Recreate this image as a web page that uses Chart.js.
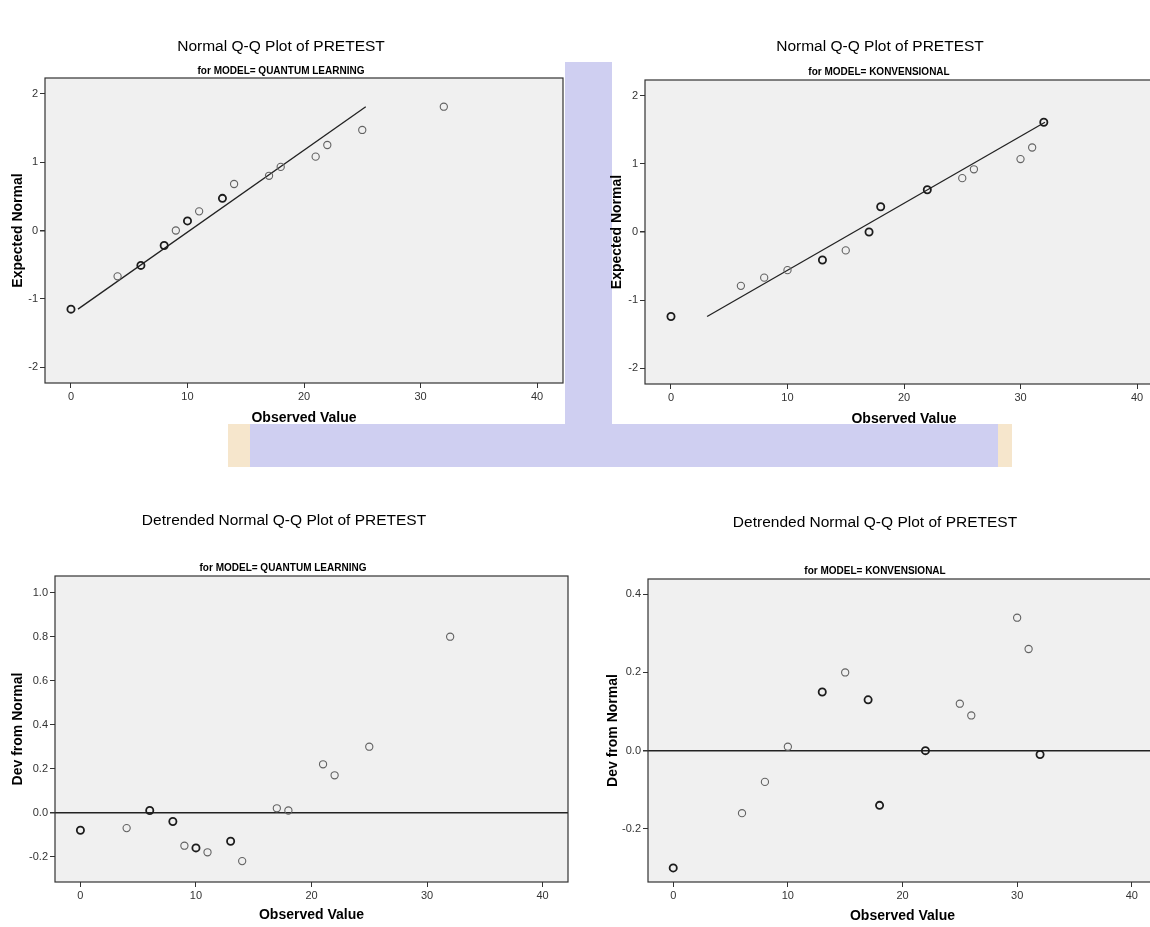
<!DOCTYPE html>
<html>
<head>
<meta charset="utf-8">
<script src="https://cdn.jsdelivr.net/npm/chart.js@4.4.0/dist/chart.umd.min.js"></script>
<style>
  html, body { margin: 0; padding: 0; background: #fff; }
  #page { position: relative; width: 1150px; height: 927px; overflow: hidden; background: #fff; }
  .wm { position: absolute; background: #cfcff1; }
  .wm-edge { position: absolute; background: #f6e6cc; }
  canvas { position: absolute; left: 0; top: 0; }
</style>
</head>
<body>
<div id="page">
  <!-- faint logo watermark behind the output -->
  <div class="wm" style="left:228px;top:424px;width:784px;height:43px"></div>
  <div class="wm" style="left:565px;top:62px;width:47px;height:362px"></div>
  <div class="wm-edge" style="left:228px;top:424px;width:22px;height:43px"></div>
  <div class="wm-edge" style="left:998px;top:424px;width:14px;height:43px"></div>
  <canvas id="qqQuantum" width="1170" height="927"></canvas>
  <canvas id="qqKonv" width="1170" height="927"></canvas>
  <canvas id="dtQuantum" width="1170" height="927"></canvas>
  <canvas id="dtKonv" width="1170" height="927"></canvas>
</div>
<script>

// MODEL = QUANTUM LEARNING
const quantumObserved = [0, 4, 6, 8, 9, 10, 11, 13, 14, 17, 18, 21, 22, 25, 32];
const quantumExpected = [-1.15, -0.67, -0.51, -0.22, 0.00, 0.14, 0.28, 0.47, 0.68, 0.80, 0.93, 1.08, 1.25, 1.47, 1.81];
const quantumDev = [-0.08, -0.07, 0.01, -0.04, -0.15, -0.16, -0.18, -0.13, -0.22, 0.02, 0.01, 0.22, 0.17, 0.30, 0.80];
const quantumTies = [2, 1, 2, 2, 1, 2, 1, 2, 1, 1, 1, 1, 1, 1, 1];
const quantumLineX = [0.6, 25.3];
const quantumLineY = [-1.15, 1.81];

// MODEL = KONVENSIONAL
const konvObserved = [0, 6, 8, 10, 13, 15, 17, 18, 22, 25, 26, 30, 31, 32];
const konvExpected = [-1.24, -0.79, -0.67, -0.56, -0.41, -0.27, 0.00, 0.37, 0.62, 0.79, 0.92, 1.07, 1.24, 1.61];
const konvDev = [-0.30, -0.16, -0.08, 0.01, 0.15, 0.20, 0.13, -0.14, 0.00, 0.12, 0.09, 0.34, 0.26, -0.01];
const konvTies = [2, 1, 1, 1, 2, 1, 2, 2, 2, 1, 1, 1, 1, 2];
const konvLineX = [3.1, 32.1];
const konvLineY = [-1.24, 1.61];

// tick labels
const observedTicks = [0, 10, 20, 30, 40];
const expectedTicks = [-2, -1, 0, 1, 2];
const quantumDevTicks = [-0.2, 0.0, 0.2, 0.4, 0.6, 0.8, 1.0];
const konvDevTicks = [-0.2, 0.0, 0.2, 0.4];

const FONT = '"Liberation Sans", Arial, sans-serif';
const CANVAS_W = 1170, CANVAS_H = 927;
const AXIS_TITLE_SIZE = 14;

const toPoints = (xs, ys) => xs.map((x, i) => ({ x: x, y: ys[i] }));

// plot background, frame and headings
const spssFrame = {
  id: 'spssFrame',
  beforeDraw(chart) {
    const a = chart.chartArea, ctx = chart.ctx;
    ctx.save();
    ctx.fillStyle = '#f0f0f0';
    ctx.fillRect(a.left, a.top, a.right - a.left, a.bottom - a.top);
    ctx.restore();
  },
  afterDraw(chart, args, opts) {
    const a = chart.chartArea, ctx = chart.ctx;
    ctx.save();
    ctx.strokeStyle = '#333';
    ctx.lineWidth = 1.2;
    ctx.strokeRect(a.left, a.top, a.right - a.left, a.bottom - a.top);
    ctx.fillStyle = '#000';
    ctx.textAlign = 'center';
    ctx.textBaseline = 'middle';
    ctx.font = '15.5px ' + FONT;
    ctx.fillText(opts.title, opts.titleX, opts.titleY);
    ctx.font = 'bold 10px ' + FONT;
    ctx.fillText(opts.subtitle, opts.subX, opts.subY);
    ctx.restore();
  }
};

function makePanel(id, p) {
  const half = AXIS_TITLE_SIZE * 1.2 / 2;
  const yW = p.box[0] - p.yTitleX + half;
  const xH = p.xTitleY - p.box[3] + half;

  const datasets = [{
    type: 'scatter',
    data: toPoints(p.xs, p.ys),
    pointRadius: 3.6,
    pointHoverRadius: 3.6,
    backgroundColor: 'rgba(0,0,0,0)',
    borderColor: ctx => p.ties[ctx.dataIndex] > 1 ? '#1c1c1c' : '#626262',
    borderWidth: ctx => p.ties[ctx.dataIndex] > 1 ? 1.8 : 1.1,
  }];
  if (p.lineX) {
    datasets.push({
      type: 'line',
      data: toPoints(p.lineX, p.lineY),
      borderColor: '#222',
      borderWidth: 1.3,
      pointRadius: 0,
      fill: false,
    });
  }

  const config = {
    type: 'scatter',
    data: { datasets: datasets },
    options: {
      responsive: false,
      animation: false,
      events: [],
      layout: {
        padding: {
          left: p.box[0] - yW,
          top: p.box[1],
          right: CANVAS_W - p.box[2],
          bottom: CANVAS_H - p.box[3] - xH,
        }
      },
      scales: {
        x: {
          type: 'linear',
          min: p.xMin, max: p.xMax,
          afterFit: s => { s.height = xH; },
          afterBuildTicks: s => { s.ticks = observedTicks.map(v => ({ value: v })); },
          border: { display: false },
          grid: { drawOnChartArea: false, tickLength: 5, tickColor: '#333', lineWidth: 1 },
          ticks: { color: '#333', padding: 2, font: { family: FONT, size: 11 }, maxRotation: 0 },
          title: {
            display: true, text: 'Observed Value', color: '#000', padding: 0,
            font: { family: FONT, size: AXIS_TITLE_SIZE, weight: 'bold' }
          }
        },
        y: {
          type: 'linear',
          min: p.yMin, max: p.yMax,
          afterFit: s => { s.width = yW; },
          afterBuildTicks: s => { s.ticks = p.yTicks.map(v => ({ value: v })); },
          border: { display: false },
          grid: {
            drawOnChartArea: p.zeroLine,
            color: c => c.tick && c.tick.value === 0 ? '#222' : 'rgba(0,0,0,0)',
            lineWidth: c => c.tick && c.tick.value === 0 ? 1.5 : 1,
            tickLength: 5, tickColor: '#333'
          },
          ticks: {
            color: '#333', padding: 2, font: { family: FONT, size: 11 },
            callback: v => p.decimals ? v.toFixed(p.decimals) : v
          },
          title: {
            display: true, text: p.yTitle, color: '#000', padding: 0,
            font: { family: FONT, size: AXIS_TITLE_SIZE, weight: 'bold' }
          }
        }
      },
      plugins: {
        legend: { display: false },
        tooltip: { enabled: false },
        spssFrame: p.head,
      }
    },
    plugins: [spssFrame]
  };
  return new Chart(document.getElementById(id), config);
}

// Normal Q-Q, QUANTUM LEARNING
makePanel('qqQuantum', {
  xs: quantumObserved, ys: quantumExpected, ties: quantumTies,
  lineX: quantumLineX, lineY: quantumLineY,
  box: [45, 78, 563, 383], xMin: -2.23, xMax: 42.23, yMin: -2.23, yMax: 2.23,
  yTicks: expectedTicks, decimals: 0, zeroLine: false,
  yTitle: 'Expected Normal', yTitleX: 18, xTitleY: 418,
  head: { title: 'Normal Q-Q Plot of PRETEST', titleX: 281, titleY: 47,
          subtitle: 'for MODEL= QUANTUM LEARNING', subX: 281, subY: 71 }
});

// Normal Q-Q, KONVENSIONAL
makePanel('qqKonv', {
  xs: konvObserved, ys: konvExpected, ties: konvTies,
  lineX: konvLineX, lineY: konvLineY,
  box: [645, 80, 1163, 384], xMin: -2.23, xMax: 42.23, yMin: -2.23, yMax: 2.23,
  yTicks: expectedTicks, decimals: 0, zeroLine: false,
  yTitle: 'Expected Normal', yTitleX: 617, xTitleY: 419,
  head: { title: 'Normal Q-Q Plot of PRETEST', titleX: 880, titleY: 47,
          subtitle: 'for MODEL= KONVENSIONAL', subX: 879, subY: 72 }
});

// Detrended, QUANTUM LEARNING
makePanel('dtQuantum', {
  xs: quantumObserved, ys: quantumDev, ties: quantumTies,
  box: [55, 576, 568, 882], xMin: -2.2, xMax: 42.2, yMin: -0.315, yMax: 1.076,
  yTicks: quantumDevTicks, decimals: 1, zeroLine: true,
  yTitle: 'Dev from Normal', yTitleX: 18, xTitleY: 915,
  head: { title: 'Detrended Normal Q-Q Plot of PRETEST', titleX: 284, titleY: 521,
          subtitle: 'for MODEL= QUANTUM LEARNING', subX: 283, subY: 568 }
});

// Detrended, KONVENSIONAL
makePanel('dtKonv', {
  xs: konvObserved, ys: konvDev, ties: konvTies,
  box: [648, 579, 1157, 882], xMin: -2.2, xMax: 42.2, yMin: -0.336, yMax: 0.439,
  yTicks: konvDevTicks, decimals: 1, zeroLine: true,
  yTitle: 'Dev from Normal', yTitleX: 613, xTitleY: 916,
  head: { title: 'Detrended Normal Q-Q Plot of PRETEST', titleX: 875, titleY: 523,
          subtitle: 'for MODEL= KONVENSIONAL', subX: 875, subY: 571 }
});
</script>
</body>
</html>
